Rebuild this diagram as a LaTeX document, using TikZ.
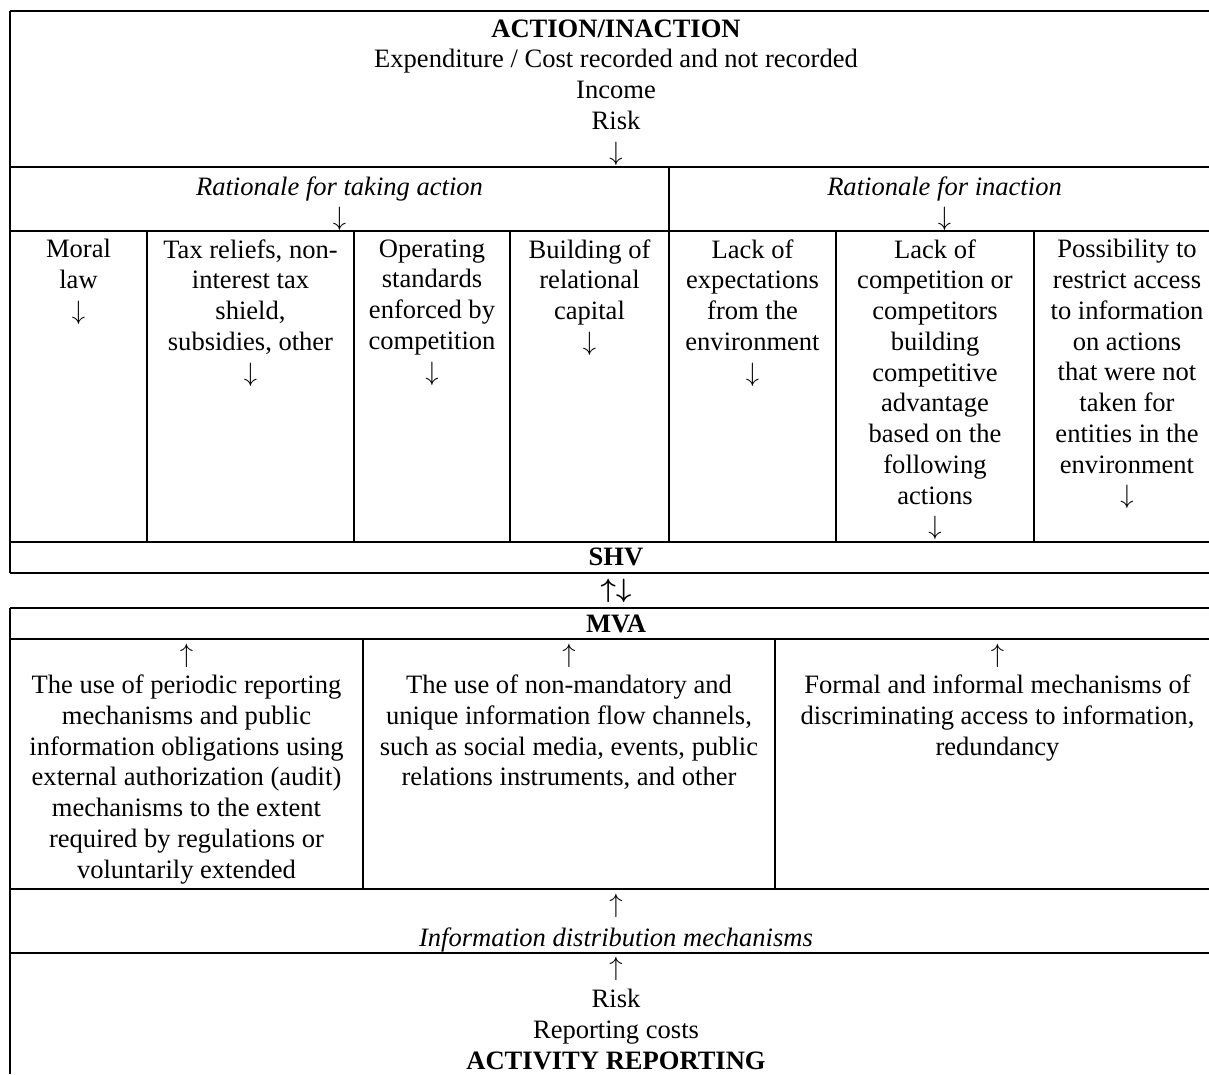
\documentclass[tikz,border=0pt]{standalone}
\usepackage{fontspec}
\setmainfont{Liberation Serif}

\newcommand{\dn}{$\downarrow$}
\newcommand{\upw}{$\uparrow$}

\tikzset{
    rule/.style={line width=0.9pt},
    sep/.style={line width=0.6pt},
    txt/.style={anchor=north, inner sep=0pt, align=center, font=\fontsize{12}{13.9}\selectfont},
}

\begin{document}
\begin{tikzpicture}[x=0.452pt, y=-0.452pt]
        \useasboundingbox (0,0) rectangle (1209,1074);

        % horizontal rules of the upper table
        \draw[rule] (10,11) -- (1209,11);
        \draw[rule] (10,167) -- (1209,167);
        \draw[rule] (10,231) -- (1209,231);
        \draw[rule] (10,542) -- (1209,542);
        \draw[rule] (10,573) -- (1209,573);
        \draw[rule] (10,11) -- (10,573);

        % horizontal rules of the lower table
        \draw[rule] (10,608) -- (1209,608);
        \draw[rule] (10,639) -- (1209,639);
        \draw[rule] (10,889) -- (1209,889);
        \draw[rule] (10,953) -- (1209,953);
        \draw[rule] (10,608) -- (10,1074);

        % column separators
        \draw[sep] (669,167) -- (669,231);
        \draw[sep] (147,231) -- (147,542);
        \draw[sep] (354,231) -- (354,542);
        \draw[sep] (510,231) -- (510,542);
        \draw[sep] (669,231) -- (669,542);
        \draw[sep] (836,231) -- (836,542);
        \draw[sep] (1034,231) -- (1034,542);
        \draw[sep] (363,639) -- (363,889);
        \draw[sep] (775,639) -- (775,889);

        \node[txt] (action) at (616,19) {\textbf{ACTION/INACTION}\\Expenditure / Cost recorded and not recorded\\Income\\Risk\\\dn};

        \node[txt] (why) at (339.5,176) {\textit{Rationale for taking action}\\\dn};
        \node[txt] (whynot) at (944.5,176) {\textit{Rationale for inaction}\\\dn};

        \node[txt] (moral) at (78.5,239) {Moral\\law\\\dn};
        \node[txt] (tax) at (250.5,239) {Tax reliefs, non-\\interest tax\\shield,\\subsidies, other\\\dn};
        \node[txt] (standards) at (432,239) {Operating\\standards\\enforced by\\competition\\\dn};
        \node[txt] (capital) at (589.5,239) {Building of\\relational\\capital\\\dn};
        \node[txt] (expect) at (752.5,239) {Lack of\\expectations\\from the\\environment\\\dn};
        \node[txt] (compet) at (935,239) {Lack of\\competition or\\competitors\\building\\competitive\\advantage\\based on the\\following\\actions\\\dn};
        \node[txt] (restrict) at (1127,239) {Possibility to\\restrict access\\to information\\on actions\\that were not\\taken for\\entities in the\\environment\\\dn};

        \node[txt, anchor=center] (shv) at (616,557) {\textbf{SHV}};
        \node[txt, anchor=center, font={\fontsize{12}{13.9}\selectfont\boldmath}] (both) at (616,591) {$\uparrow\downarrow$};
        \node[txt, anchor=center] (mva) at (616,624) {\textbf{MVA}};

        \node[txt] (periodic) at (186.5,644) {\upw\\The use of periodic reporting\\mechanisms and public\\information obligations using\\external authorization (audit)\\mechanisms to the extent\\required by regulations or\\voluntarily extended};
        \node[txt] (channels) at (569,644) {\upw\\The use of non-mandatory and\\unique information flow channels,\\such as social media, events, public\\relations instruments, and other};
        \node[txt] (formal) at (997.5,644) {\upw\\Formal and informal mechanisms of\\discriminating access to information,\\redundancy};

        \node[txt] (distrib) at (616,894) {\upw\\[1.5pt]\textit{Information distribution mechanisms}};
        \node[txt] (report) at (616,957) {\upw\\[0.5pt]Risk\\Reporting costs\\\textbf{ACTIVITY REPORTING}};
\end{tikzpicture}
\end{document}
